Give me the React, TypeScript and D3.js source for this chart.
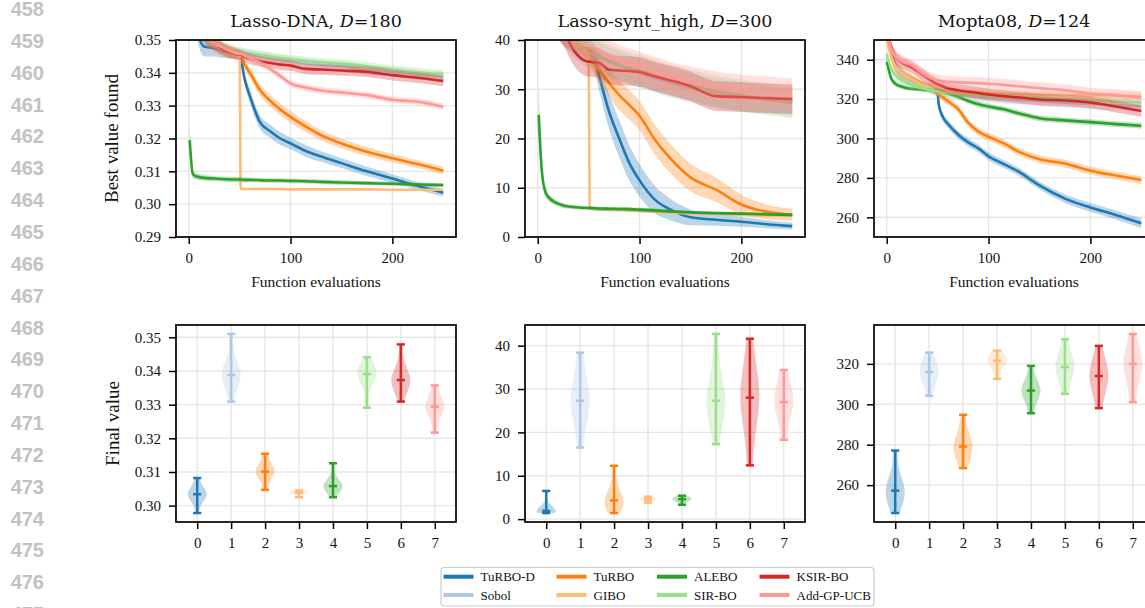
import { useEffect, useRef } from "react";
import * as d3 from "d3";

const methods = ["TuRBO-D", "Sobol", "TuRBO", "GIBO", "ALEBO", "SIR-BO", "KSIR-BO", "Add-GP-UCB"];
const colors = ["#1f77b4", "#aec7e8", "#ff7f0e", "#ffbb78", "#2ca02c", "#98df8a", "#d62728", "#ff9896"];

const evals = [0, 1, 4, 8, 15, 25, 35, 50, 51, 55, 60, 70, 80, 90, 100, 115, 130, 150, 175, 200, 225, 250];

// Lasso-DNA, mean best value per method (same order as methods)
const dnaMean = [
  [0.372, 0.37, 0.362, 0.354, 0.348, 0.3475, 0.3465, 0.3455, 0.3445, 0.338, 0.333, 0.325, 0.3222, 0.32, 0.3185, 0.3162, 0.3145, 0.3125, 0.31, 0.3078, 0.3055, 0.3035],
  [0.37, 0.368, 0.36, 0.355, 0.351, 0.349, 0.3475, 0.3462, 0.3462, 0.3458, 0.3455, 0.345, 0.3445, 0.344, 0.3436, 0.343, 0.3425, 0.342, 0.341, 0.3403, 0.3395, 0.3388],
  [0.372, 0.37, 0.362, 0.357, 0.352, 0.349, 0.347, 0.3455, 0.345, 0.3425, 0.34, 0.3348, 0.3315, 0.3288, 0.3266, 0.3236, 0.321, 0.3185, 0.316, 0.314, 0.3122, 0.3102],
  [0.372, 0.37, 0.362, 0.357, 0.352, 0.349, 0.3475, 0.3455, 0.3046, 0.3046, 0.3046, 0.3046, 0.3046, 0.3046, 0.3045, 0.3045, 0.3045, 0.3045, 0.3045, 0.3044, 0.3044, 0.3044],
  [null, 0.3195, 0.3092, 0.3084, 0.308, 0.3078, 0.3076, 0.3075, 0.3075, 0.3074, 0.3074, 0.3073, 0.3072, 0.3072, 0.3071, 0.307, 0.3068, 0.3066, 0.3064, 0.3062, 0.306, 0.3058],
  [0.37, 0.368, 0.36, 0.355, 0.351, 0.349, 0.348, 0.3465, 0.3465, 0.3462, 0.346, 0.3455, 0.345, 0.3445, 0.3441, 0.3436, 0.3432, 0.3428, 0.342, 0.341, 0.3402, 0.3396],
  [0.37, 0.368, 0.362, 0.357, 0.352, 0.349, 0.347, 0.3455, 0.3455, 0.3448, 0.3443, 0.3435, 0.343, 0.3425, 0.3422, 0.3412, 0.341, 0.3407, 0.3403, 0.3393, 0.3385, 0.3375],
  [0.37, 0.368, 0.362, 0.357, 0.352, 0.349, 0.3475, 0.3458, 0.3458, 0.3452, 0.3445, 0.343, 0.3412, 0.339, 0.3368, 0.3355, 0.3346, 0.334, 0.3332, 0.3318, 0.3312, 0.3297],
];
const dnaErr = [
  [0.003, 0.003, 0.003, 0.003, 0.003, 0.0025, 0.002, 0.0015, 0.0015, 0.0018, 0.002, 0.002, 0.002, 0.002, 0.0018, 0.0018, 0.0016, 0.0015, 0.0014, 0.0013, 0.0012, 0.0012],
  [0.003, 0.003, 0.003, 0.003, 0.002, 0.0018, 0.0016, 0.0015, 0.0015, 0.0015, 0.0015, 0.0015, 0.0015, 0.0015, 0.0015, 0.0015, 0.0015, 0.0015, 0.0015, 0.0015, 0.0015, 0.0015],
  [0.003, 0.003, 0.003, 0.003, 0.003, 0.0025, 0.002, 0.0015, 0.0015, 0.0015, 0.0016, 0.0017, 0.0018, 0.0018, 0.0018, 0.0017, 0.0016, 0.0015, 0.0014, 0.0013, 0.0012, 0.0012],
  [0.003, 0.003, 0.003, 0.003, 0.002, 0.0018, 0.0016, 0.0015, 0.0002, 0.0002, 0.0002, 0.0002, 0.0002, 0.0002, 0.0002, 0.0002, 0.0002, 0.0002, 0.0002, 0.0002, 0.0002, 0.0002],
  [null, 0.005, 0.0012, 0.001, 0.0009, 0.0008, 0.0008, 0.0008, 0.0008, 0.0008, 0.0007, 0.0007, 0.0007, 0.0007, 0.0007, 0.0007, 0.0007, 0.0007, 0.0006, 0.0006, 0.0006, 0.0006],
  [0.0013, 0.0013, 0.0013, 0.0013, 0.0013, 0.0013, 0.0013, 0.0013, 0.0013, 0.0013, 0.0013, 0.0013, 0.0013, 0.0013, 0.0013, 0.0013, 0.0013, 0.0013, 0.0013, 0.0013, 0.0013, 0.0013],
  [0.003, 0.003, 0.003, 0.003, 0.0025, 0.002, 0.0018, 0.0016, 0.0016, 0.0016, 0.0016, 0.0016, 0.0016, 0.0016, 0.0016, 0.0016, 0.0016, 0.0016, 0.0016, 0.0016, 0.0016, 0.0016],
  [0.001, 0.001, 0.001, 0.001, 0.001, 0.001, 0.001, 0.001, 0.001, 0.001, 0.001, 0.001, 0.001, 0.001, 0.001, 0.001, 0.001, 0.001, 0.001, 0.001, 0.001, 0.001],
];

// Lasso-synt_high
const syntMean = [
  [60, 58, 52, 48, 45, 42, 41, 38, 37.8, 37, 33, 25.5, 20, 15, 11.5, 7.6, 5.6, 4.0, 3.5, 3.1, 2.6, 2.2],
  [60, 58, 52, 48, 45, 42, 39.5, 37.5, 37.4, 37, 36.5, 35.5, 34.8, 34, 33.3, 32.3, 31.3, 30.2, 29.2, 28.5, 27.8, 27.3],
  [60, 58, 52, 48, 45, 42, 41, 37.5, 37, 35.5, 34, 31.3, 28.8, 26.8, 24.6, 19.8, 16, 12.1, 9.6, 6.6, 5.1, 4.5],
  [60, 58, 52, 48, 45, 42, 40, 37, 5.8, 5.7, 5.6, 5.5, 5.45, 5.4, 5.3, 5.1, 5.0, 4.8, 4.7, 4.5, 4.4, 4.3],
  [null, 24.8, 13.5, 8.9, 7.3, 6.4, 6.1, 5.9, 5.9, 5.85, 5.8, 5.75, 5.7, 5.65, 5.55, 5.4, 5.2, 5.0, 4.85, 4.75, 4.6, 4.5],
  [60, 58, 52, 48, 45, 42, 40.5, 38.5, 38.4, 37.8, 37, 35.8, 35, 34.3, 33.8, 32.8, 31.8, 30.8, 29.6, 28.8, 28, 27.3],
  [60, 58, 52, 48, 45, 42, 38, 35.6, 35.6, 35.5, 35.4, 34, 33.8, 33.7, 33.5, 32.6, 31.8, 30.6, 28.6, 28.4, 28.2, 28],
  [60, 58, 52, 48, 45, 42, 41, 39, 38.9, 38.5, 38, 37, 36, 35.3, 34.6, 33.6, 32.6, 31.6, 30.6, 30, 29.6, 29.2],
];
const syntErr = [
  [3, 3, 3, 3, 3, 3, 3, 2, 2, 2.5, 3, 3.5, 3.8, 3.6, 3.3, 2.8, 2.2, 1.6, 1.2, 1, 0.8, 0.7],
  [3, 3, 3, 3, 3, 3, 3, 3, 3, 3, 3, 3, 3, 3, 3, 3, 3, 3, 3, 3, 2.8, 2.8],
  [3, 3, 3, 3, 3, 3, 3, 2, 2, 2.2, 2.5, 2.8, 3, 3, 3, 3, 3, 2.8, 2.5, 2, 1.5, 1.2],
  [2, 2, 2, 2, 2, 2, 2, 2, 0.3, 0.3, 0.3, 0.3, 0.3, 0.3, 0.3, 0.3, 0.3, 0.3, 0.3, 0.3, 0.3, 0.3],
  [null, 6, 1.5, 1, 0.6, 0.5, 0.4, 0.4, 0.4, 0.4, 0.4, 0.4, 0.4, 0.4, 0.4, 0.4, 0.3, 0.3, 0.3, 0.3, 0.3, 0.3],
  [3.2, 3.2, 3.2, 3.2, 3.2, 3.2, 3.2, 3.2, 3.2, 3.2, 3.2, 3.2, 3.2, 3.2, 3.2, 3.2, 3.2, 3.2, 3.2, 3.2, 3.2, 3.2],
  [3, 3, 3, 3, 3, 3, 3, 3, 3, 3, 3, 3, 3, 3, 3, 3, 3, 3, 3, 3, 3, 3],
  [3, 3, 3, 3, 3, 3, 3, 3, 3, 3, 3, 3, 3, 3, 3, 3, 3, 3, 3, 3, 3, 3],
];

// Mopta08
const moptaMean = [
  [358, 354, 345, 338, 333, 329.5, 327, 323, 317.5, 311, 307.5, 302, 298, 295, 291, 287, 283, 276.2, 269.5, 265, 261.2, 257],
  [355, 352, 343, 337, 332.5, 329.5, 327, 324.5, 324.3, 323.5, 322.8, 322, 321.6, 321.2, 320.8, 320.2, 319.6, 319, 318.2, 317.5, 317, 316.4],
  [358, 354, 343, 337, 333, 330.5, 327.5, 323, 322.5, 321, 319, 315, 308, 303.5, 300.9, 297.5, 293.2, 289.5, 287.3, 283.7, 281.2, 278.9],
  [350, 348, 342, 337, 333, 330, 327, 325, 324.8, 324.5, 324.2, 323.8, 323.5, 323.2, 323, 322.7, 322.5, 322.3, 322.1, 321.9, 321.7, 321.5],
  [338.9, 337, 331, 328, 326.3, 325.2, 324.8, 324.2, 324.1, 323.6, 322.8, 321.2, 319, 317.4, 316.2, 314.8, 312.7, 310.3, 309.2, 308.3, 307.3, 306.5],
  [343, 341, 336, 332.5, 329.5, 327, 325.5, 324, 324, 323.5, 323, 322.6, 322.3, 322, 321.7, 321.3, 321, 320.6, 320, 319.4, 318.8, 318.3],
  [356, 353, 347, 342, 338.5, 336, 332.5, 327.5, 327.3, 326.5, 325.5, 324.5, 323.8, 323.1, 322.3, 321.5, 320.8, 319.8, 319.3, 318.3, 316.2, 314],
  [356, 353, 346, 342, 339, 337, 333, 329.5, 329.4, 329, 328.8, 328.5, 328.3, 328.1, 327.8, 327.2, 326.5, 325.5, 324.5, 322.8, 322, 320.8],
];
const moptaErr = [
  [4, 4, 3, 3, 2.5, 2, 2, 2, 2, 2, 2, 2, 2, 2, 2, 2, 2, 2, 2.2, 2.2, 2.3, 2.5],
  [2.5, 2.5, 2.5, 2.5, 2.5, 2.5, 2.5, 2.5, 2.5, 2.5, 2.5, 2.5, 2.5, 2.5, 2.5, 2.5, 2.5, 2.5, 2.5, 2.5, 2.5, 2.5],
  [4, 4, 3, 3, 2.5, 2, 2, 2, 2, 2, 2, 2, 2, 2, 2, 2, 2, 2, 2, 2, 2, 2],
  [2, 2, 2, 2, 2, 2, 2, 2, 2, 2, 2, 2, 2, 2, 2, 2, 2, 2, 2, 2, 2, 2],
  [3, 2.5, 2, 1.5, 1.2, 1, 1, 1, 1, 1, 1, 1, 1.2, 1.5, 1.5, 1.5, 1.5, 1.5, 1.5, 1.5, 1.5, 1.5],
  [2, 2, 2, 2, 2, 2, 2, 2, 2, 2, 2, 2, 2, 2, 2, 2, 2, 2, 2, 2, 2, 2],
  [3, 3, 3, 3, 3, 3, 3, 3, 3, 3, 3, 3, 3, 3, 3, 3, 3, 3, 3, 3, 3, 3],
  [3, 3, 3, 3, 3, 3, 3, 3, 3, 3, 3, 3, 3, 3, 3, 3, 3, 3, 3, 3, 3, 3],
];

// final values of the runs, per method
const dnaFinal = [
  [0.2978, 0.301, 0.3022, 0.303, 0.3033, 0.3035, 0.3038, 0.3045, 0.306, 0.3082],
  [0.3309, 0.3355, 0.3372, 0.338, 0.3386, 0.339, 0.3398, 0.341, 0.344, 0.351],
  [0.3047, 0.3075, 0.309, 0.3096, 0.3099, 0.3103, 0.3108, 0.3115, 0.313, 0.3154],
  [0.3025, 0.3033, 0.3036, 0.3038, 0.3038, 0.3039, 0.304, 0.3042, 0.3043, 0.3045],
  [0.3025, 0.3045, 0.3052, 0.3055, 0.3057, 0.3059, 0.3062, 0.3068, 0.3085, 0.3126],
  [0.3291, 0.335, 0.3375, 0.3385, 0.339, 0.3392, 0.3398, 0.3405, 0.3418, 0.3441],
  [0.3309, 0.334, 0.3358, 0.3366, 0.3371, 0.3375, 0.3382, 0.3395, 0.342, 0.3479],
  [0.3217, 0.326, 0.3278, 0.3287, 0.3292, 0.3296, 0.3302, 0.3312, 0.333, 0.3357],
];
const syntFinal = [
  [1.4, 1.6, 1.7, 1.8, 1.85, 1.95, 2.1, 2.4, 3.5, 6.5],
  [16.5, 21, 24, 26, 27, 27.6, 29, 31, 34, 38.4],
  [1.4, 2.2, 3.0, 3.6, 4.1, 4.5, 5.0, 6.0, 8.0, 12.3],
  [3.8, 4.2, 4.4, 4.5, 4.5, 4.6, 4.7, 4.8, 5.0, 5.2],
  [3.3, 3.9, 4.2, 4.4, 4.5, 4.7, 4.8, 5.0, 5.1, 5.4],
  [17.3, 22, 24.5, 26, 27, 27.6, 29, 31.5, 35, 42.7],
  [12.4, 19, 23, 26, 27.5, 28.5, 30, 33, 36, 41.6],
  [18.3, 22, 24.5, 26, 26.7, 27.3, 28.5, 30, 32, 34.4],
];
const moptaFinal = [
  [246.2, 250, 253, 255, 256.7, 257.9, 259.5, 262, 267, 277.1],
  [304.2, 309, 312, 314, 315.4, 316.4, 318, 320, 322.5, 325.6],
  [268.4, 272, 275, 277.5, 278.6, 279.6, 281, 284, 288, 294.8],
  [312.6, 316.5, 319, 320.5, 321.3, 321.9, 322.8, 323.6, 324.6, 326.6],
  [295.6, 300.5, 303.5, 305.5, 306.4, 307.2, 308.3, 310, 313, 319],
  [305.2, 310.5, 314, 316.5, 317.9, 318.9, 320.5, 323, 327, 332.2],
  [298.1, 304, 308, 311, 313.3, 314.7, 316.5, 319.5, 323.5, 328.9],
  [301.1, 308, 313, 317, 319.4, 320.6, 322.5, 325, 329, 334.8],
];

const evalTicks = [0, 100, 200];
const methodTicks = [0, 1, 2, 3, 4, 5, 6, 7];
const dnaTicks = [0.29, 0.3, 0.31, 0.32, 0.33, 0.34, 0.35];
const syntTicks = [0, 10, 20, 30, 40];
const moptaTicks = [260, 280, 300, 320, 340];
const dnaFinalTicks = [0.3, 0.31, 0.32, 0.33, 0.34, 0.35];
const syntFinalTicks = [0, 10, 20, 30, 40];
const moptaFinalTicks = [260, 280, 300, 320];
const lineNumbers = d3.range(458, 478);

const benchmarks = [
  { name: "Lasso-DNA", dim: "180", mean: dnaMean, err: dnaErr, yDomain: [0.29, 0.35], yTicks: dnaTicks, fmt: ".2f", final: dnaFinal, finalTicks: dnaFinalTicks },
  { name: "Lasso-synt_high", dim: "300", mean: syntMean, err: syntErr, yDomain: [0, 40], yTicks: syntTicks, fmt: "d", final: syntFinal, finalTicks: syntFinalTicks },
  { name: "Mopta08", dim: "124", mean: moptaMean, err: moptaErr, yDomain: [250, 350], yTicks: moptaTicks, fmt: "d", final: moptaFinal, finalTicks: moptaFinalTicks },
];

const width = 1145;
const height = 608;
const colLeft = [176, 525, 874];
const panelW = 280;
const topRow = [40, 237];
const botRow = [325, 522];
const serif = "'Liberation Serif', 'Times New Roman', Times, serif";

// gaussian kde (scott's rule), evaluated between min and max like matplotlib's violinplot
function kde(sample: number[]) {
  const bw = d3.deviation(sample)! * Math.pow(sample.length, -1 / 5);
  const [lo, hi] = d3.extent(sample) as [number, number];
  const pts = d3.range(80).map((k) => lo + ((hi - lo) * k) / 79);
  const dens = pts.map((p) => d3.sum(sample, (s) => Math.exp(-0.5 * ((p - s) / bw) ** 2)));
  const m = d3.max(dens)!;
  return pts.map((p, k) => [p, (dens[k] / m) * 0.28]);
}

function drawGrid(g: any, x: any, y: any, xt: number[], yt: number[], box: number[]) {
  const [l, r, t, b] = box;
  g.append("g").selectAll("line").data(xt).join("line")
    .attr("x1", (d: number) => x(d)).attr("x2", (d: number) => x(d))
    .attr("y1", t).attr("y2", b)
    .attr("stroke", "#e6e6e6").attr("stroke-width", 1.4);
  g.append("g").selectAll("line").data(yt).join("line")
    .attr("x1", l).attr("x2", r)
    .attr("y1", (d: number) => y(d)).attr("y2", (d: number) => y(d))
    .attr("stroke", "#e6e6e6").attr("stroke-width", 1.4);
}

function drawAxes(g: any, x: any, y: any, xt: number[], yt: number[], yFmt: string, box: number[]) {
  const [l, r, t, b] = box;
  const ax = g.append("g").attr("transform", `translate(0,${b})`)
    .call(d3.axisBottom(x).tickValues(xt).tickSize(7).tickPadding(8).tickFormat(d3.format("d")));
  const ay = g.append("g").attr("transform", `translate(${l},0)`)
    .call(d3.axisLeft(y).tickValues(yt).tickSize(7).tickPadding(8).tickFormat(d3.format(yFmt)));
  [ax, ay].forEach((a) => {
    a.select(".domain").remove();
    a.attr("font-family", serif).attr("font-size", 15);
    a.selectAll(".tick line").attr("stroke-width", 1.5);
    a.selectAll(".tick text").attr("fill", "#111");
  });
  g.append("rect")
    .attr("x", l).attr("y", t).attr("width", r - l).attr("height", b - t)
    .attr("fill", "none").attr("stroke", "#000").attr("stroke-width", 1.7);
}

export default function App() {
  const svgRef = useRef<SVGSVGElement>(null);

  useEffect(() => {
    const svg = d3.select(svgRef.current);
    svg.selectAll("*").remove();

    svg.append("g").selectAll("text").data(lineNumbers).join("text")
      .attr("x", 44).attr("y", (d, i) => 16 + i * 31.85)
      .attr("text-anchor", "end")
      .attr("font-family", "'Liberation Sans', Arial, sans-serif").attr("font-weight", "bold")
      .attr("font-size", 20).attr("fill", "#c2c2c2")
      .text((d) => d);

    const idx = d3.range(evals.length);

    benchmarks.forEach((bm, col) => {
      const left = colLeft[col];
      const right = left + panelW;

      // ---- top: best value found ----
      const box = [left, right, topRow[0], topRow[1]];
      const x = d3.scaleLinear().domain([-12.5, 262.5]).range([left, right]);
      const y = d3.scaleLinear().domain(bm.yDomain).range([topRow[1], topRow[0]]);
      const g = svg.append("g");
      drawGrid(g, x, y, evalTicks, bm.yTicks, box);

      const clipId = `clip-top-${col}`;
      svg.append("clipPath").attr("id", clipId).append("rect")
        .attr("x", left).attr("y", topRow[0]).attr("width", panelW).attr("height", topRow[1] - topRow[0]);
      const plot = g.append("g").attr("clip-path", `url(#${clipId})`);

      methods.forEach((m, k) => {
        const mean = bm.mean[k] as (number | null)[];
        const err = bm.err[k] as (number | null)[];
        const ok = (i: number) => mean[i] != null;
        const band = d3.area<number>().defined(ok)
          .x((i) => x(evals[i]))
          .y0((i) => y(mean[i]! - err[i]!))
          .y1((i) => y(mean[i]! + err[i]!))
          .curve(d3.curveMonotoneX);
        const ln = d3.line<number>().defined(ok)
          .x((i) => x(evals[i]))
          .y((i) => y(mean[i]!))
          .curve(d3.curveMonotoneX);
        plot.append("path").attr("d", band(idx)).attr("fill", colors[k]).attr("fill-opacity", 0.3);
        plot.append("path").attr("d", ln(idx)).attr("fill", "none")
          .attr("stroke", colors[k]).attr("stroke-width", 2.6).attr("stroke-linejoin", "round");
      });
      drawAxes(g, x, y, evalTicks, bm.yTicks, bm.fmt, box);

      const title = svg.append("text")
        .attr("x", (left + right) / 2).attr("y", 26.5)
        .attr("text-anchor", "middle").attr("font-family", "'DejaVu Serif', serif").attr("font-size", 17.5).attr("fill", "#111");
      title.append("tspan").text(`${bm.name}, `);
      title.append("tspan").attr("font-style", "italic").text("D");
      title.append("tspan").text(`=${bm.dim}`);

      svg.append("text")
        .attr("x", (left + right) / 2).attr("y", 287)
        .attr("text-anchor", "middle").attr("font-family", serif).attr("font-size", 15.5).attr("fill", "#111")
        .text("Function evaluations");

      // ---- bottom: final value violins ----
      const vbox = [left, right, botRow[0], botRow[1]];
      const xv = d3.scaleLinear().domain([-0.625, 7.625]).range([left, right]);
      const [lo, hi] = d3.extent(bm.final.flat()) as [number, number];
      const pad = (hi - lo) * 0.05;
      const yv = d3.scaleLinear().domain([lo - pad, hi + pad]).range([botRow[1], botRow[0]]);
      const gv = svg.append("g");
      drawGrid(gv, xv, yv, methodTicks, bm.finalTicks, vbox);

      bm.final.forEach((sample, k) => {
        const dens = kde(sample);
        const body = d3.area<number[]>()
          .y((d) => yv(d[0]))
          .x0((d) => xv(k - d[1]))
          .x1((d) => xv(k + d[1]))
          .curve(d3.curveLinear);
        gv.append("path").attr("d", body(dens)).attr("fill", colors[k]).attr("fill-opacity", 0.3);
        const [mn, mx] = d3.extent(sample) as [number, number];
        const md = d3.median(sample)!;
        gv.append("line")
          .attr("x1", xv(k)).attr("x2", xv(k)).attr("y1", yv(mn)).attr("y2", yv(mx))
          .attr("stroke", colors[k]).attr("stroke-width", 2.5);
        gv.append("g").selectAll("line").data([mn, md, mx]).join("line")
          .attr("x1", xv(k - 0.12)).attr("x2", xv(k + 0.12))
          .attr("y1", (d) => yv(d)).attr("y2", (d) => yv(d))
          .attr("stroke", colors[k]).attr("stroke-width", 2.5);
      });
      drawAxes(gv, xv, yv, methodTicks, bm.finalTicks, bm.fmt, vbox);
    });

    svg.append("text")
      .attr("transform", `translate(118,${(topRow[0] + topRow[1]) / 2}) rotate(-90)`)
      .attr("text-anchor", "middle").attr("font-family", serif).attr("font-size", 19).attr("fill", "#111")
      .text("Best value found");
    svg.append("text")
      .attr("transform", `translate(119,${(botRow[0] + botRow[1]) / 2}) rotate(-90)`)
      .attr("text-anchor", "middle").attr("font-family", serif).attr("font-size", 19).attr("fill", "#111")
      .text("Final value");

    // legend, filled column by column like matplotlib's ncol=4
    const legend = svg.append("g");
    legend.append("rect")
      .attr("x", 441).attr("y", 567.5).attr("width", 433).attr("height", 38.5).attr("rx", 3)
      .attr("fill", "#fff").attr("stroke", "#cccccc").attr("stroke-width", 1.2);
    const colX = [443.5, 556.5, 657, 759.5];
    const rowY = [576.7, 595];
    methods.forEach((m, k) => {
      const cx = colX[Math.floor(k / 2)];
      const cy = rowY[k % 2];
      legend.append("line")
        .attr("x1", cx).attr("x2", cx + 30).attr("y1", cy).attr("y2", cy)
        .attr("stroke", colors[k]).attr("stroke-width", 4);
      legend.append("text")
        .attr("x", cx + 37).attr("y", cy + 4.5)
        .attr("font-family", serif).attr("font-size", 13).attr("fill", "#111")
        .text(m);
    });
  }, []);

  return (
    <svg
      ref={svgRef}
      width={width}
      height={height}
      style={{ position: "absolute", left: 0, top: 0, background: "#fff" }}
    />
  );
}
